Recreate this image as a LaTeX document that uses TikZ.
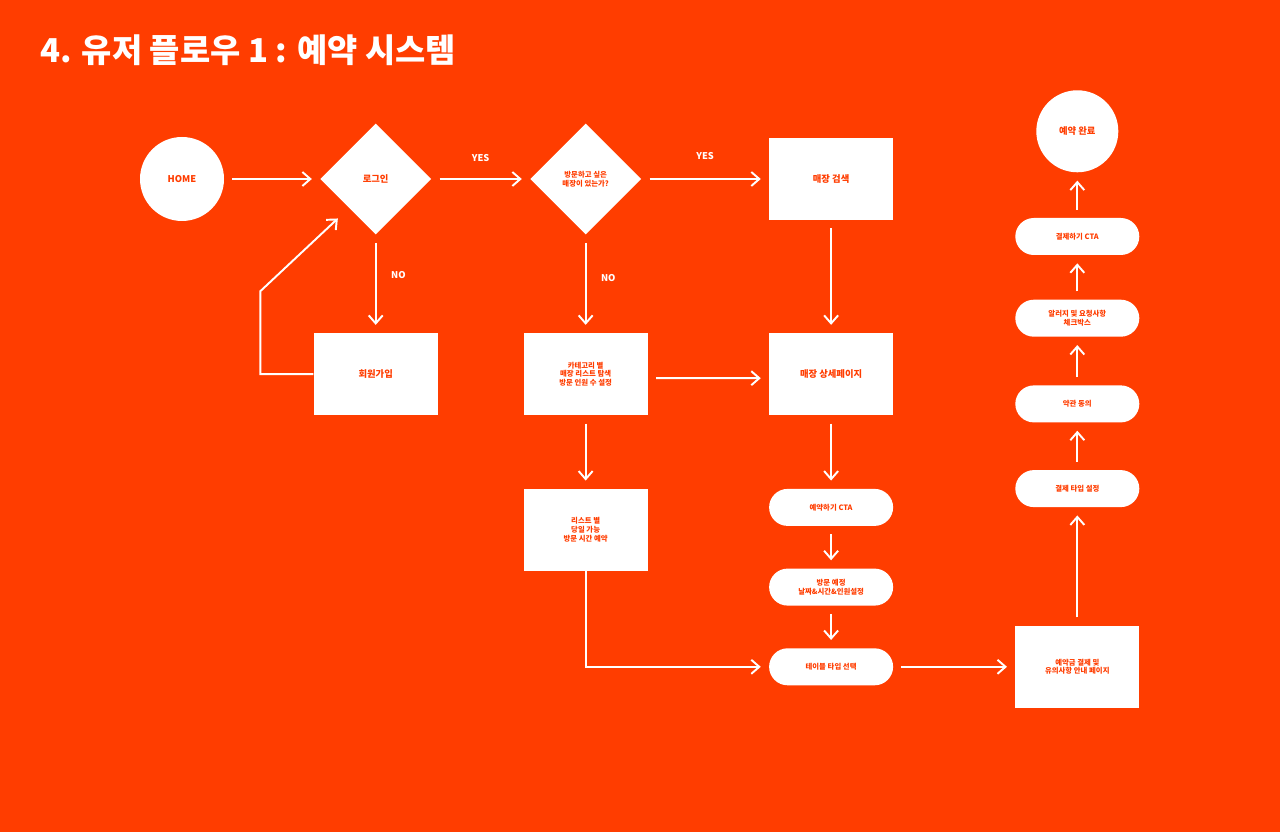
\documentclass[tikz,border=0pt]{standalone}
\usepackage{fontspec}
\setmainfont{Noto Sans CJK KR}
\usetikzlibrary{arrows.meta,positioning,calc,shapes.geometric}
\definecolor{flame}{HTML}{FF3D00}
\definecolor{paper}{HTML}{FFFFFF}
\newcommand\flowbig{\fontsize{5.3}{6.4}\selectfont\bfseries}
\newcommand\flowsmall{\fontsize{4.2}{5.0}\selectfont\bfseries}
\tikzset{
  startnode/.style={circle,fill=paper,inner sep=0pt,minimum size=1.68cm,align=center,font=\flowbig,text=flame},
  decision/.style={diamond,fill=paper,inner sep=0pt,minimum width=2.22cm,minimum height=2.22cm,align=center,font=\flowsmall,text=flame},
  pagebox/.style={rectangle,fill=paper,inner sep=0pt,minimum width=2.48cm,minimum height=1.64cm,align=center,font=\flowbig,text=flame},
  pillbox/.style={rectangle,rounded corners=0.37cm,fill=paper,inner sep=0pt,minimum width=2.48cm,minimum height=0.74cm,align=center,font=\flowsmall,text=flame},
  arrow/.style={-{Straight Barb[length=1.6mm,width=2.8mm]},line width=1.1pt,draw=paper,shorten <=0.16cm,shorten >=0.16cm},
  lbl/.style={font=\flowbig,text=paper,inner sep=0pt}
}

\begin{document}
\begin{tikzpicture}
  \useasboundingbox (0,0) rectangle (25.6,-16.64);
  \fill[flame] (0,0) rectangle (25.6,-16.64);
  \node[anchor=west, inner sep=0pt, text=paper, font=\fontsize{18.7}{22}\selectfont\bfseries] (title) at (0.8,-1.0) {4. 유저 플로우 1 : 예약 시스템};

  % main row
  \node[startnode] (home) at (3.64,-3.58) {HOME};
  \node[decision, right=1.91cm of home, font=\flowbig] (login) {로그인};
  \node[decision, right=1.965cm of login] (want) {방문하고 싶은\\매장이 있는가?};
  \node[pagebox, right=2.545cm of want] (search) {매장 검색};

  % second row
  \node[pagebox, below=1.96cm of login] (join) {회원가입};
  \node[pagebox, below=1.96cm of want, font=\flowsmall] (category) {카테고리 별\\매장 리스트 탐색\\방문 인원 수 설정};
  \node[pagebox, below=2.25cm of search] (detail) {매장 상세페이지};

  % booking steps
  \node[pagebox, below=1.46cm of category, font=\flowsmall] (sameday) {리스트 별\\당일 가능\\방문 시간 예약};
  \node[pillbox, below=1.46cm of detail] (bookcta) {예약하기 CTA};
  \node[pillbox, below=0.84cm of bookcta] (visitdate) {방문 예정\\날짜\&시간\&인원설정};
  \node[pillbox, below=0.84cm of visitdate] (table) {테이블 타입 선택};

  % payment column
  \node[pagebox, right=2.43cm of table, font=\flowsmall] (deposit) {예약금 결제 및\\유의사항 안내 페이지};
  \node[pillbox, above=2.36cm of deposit] (paytype) {결제 타입 설정};
  \node[pillbox, above=0.94cm of paytype] (terms) {약관 동의};
  \node[pillbox, above=0.96cm of terms] (allergy) {알러지 및 요청사항\\체크박스};
  \node[pillbox, above=0.88cm of allergy] (paycta) {결제하기 CTA};
  \node[startnode, minimum size=1.64cm, above=0.9cm of paycta] (done) {예약 완료};

  \coordinate (backtip) at ($(login)+(-0.64,-0.68)$);

  \draw[arrow] (home) -- (login);
  \draw[arrow] (login) -- node[lbl, above=0.32cm] (yes1) {YES} (want);
  \draw[arrow] (want) -- node[lbl, above=0.36cm] (yes2) {YES} (search);
  \draw[arrow] (login) -- node[lbl, pos=0.41, right=0.29cm] (no1) {NO} (join);
  \draw[arrow] (want) -- node[lbl, pos=0.44, right=0.29cm] (no2) {NO} (category);
  \draw[arrow, shorten <=0pt] (join.west) -- ++(-1.06,0) -- ++(0,1.66) -- (backtip);
  \draw[arrow] ($(category.east)+(0,-0.08)$) -- ($(detail.west)+(0,-0.08)$);
  \draw[arrow] (search) -- (detail);
  \draw[arrow] (category) -- (sameday);
  \draw[arrow] (detail) -- (bookcta);
  \draw[arrow] (bookcta) -- (visitdate);
  \draw[arrow] (visitdate) -- (table);
  \draw[arrow, shorten <=0pt] (sameday.south) |- (table.west);
  \draw[arrow] (table) -- (deposit);
  \draw[arrow] (deposit) -- (paytype);
  \draw[arrow] (paytype) -- (terms);
  \draw[arrow] (terms) -- (allergy);
  \draw[arrow] (allergy) -- (paycta);
  \draw[arrow] (paycta) -- (done);
\end{tikzpicture}
\end{document}
